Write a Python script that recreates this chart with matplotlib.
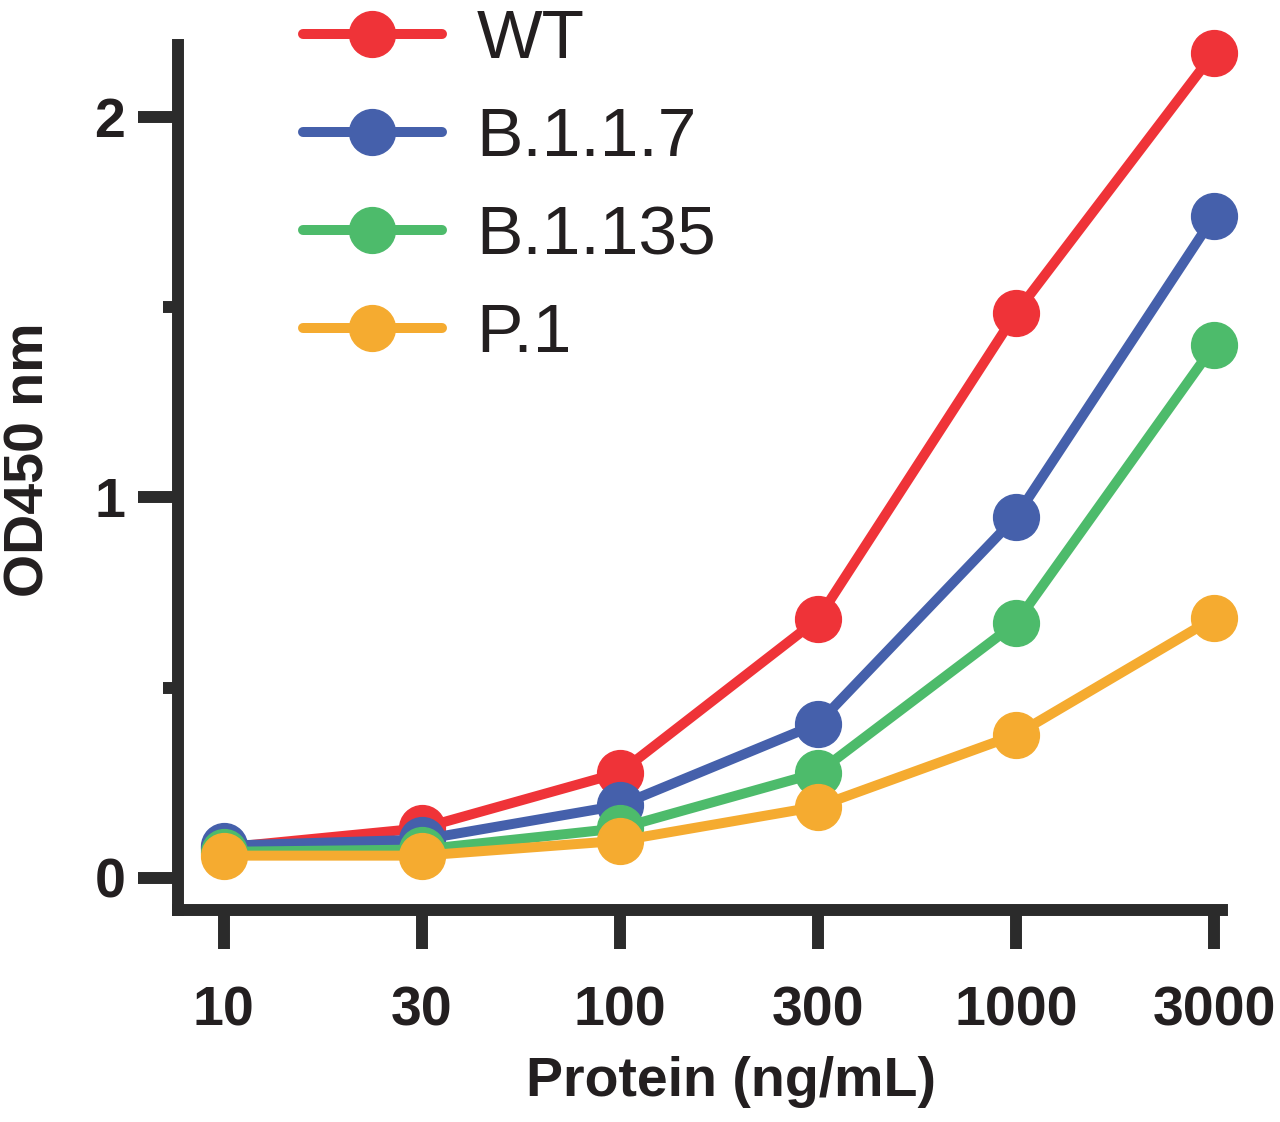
import numpy as np
import matplotlib.pyplot as plt

concentrations = ['10', '30', '100', '300', '1000', '3000']
series_names = ['WT', 'B.1.1.7', 'B.1.135', 'P.1']
wt = [0.079, 0.13, 0.276, 0.68, 1.485, 2.17]
b117 = [0.084, 0.10, 0.19, 0.405, 0.949, 1.74]
b135 = [0.068, 0.074, 0.13, 0.276, 0.67, 1.40]
p1 = [0.058, 0.058, 0.097, 0.187, 0.376, 0.683]
colors = ['#ef3338', '#4560ab', '#4dbb6b', '#f5ab30']

AXIS_COLOR = '#2b2b2b'

plt.rcParams['font.family'] = ['Liberation Sans', 'DejaVu Sans']

fig = plt.figure(figsize=(12.8, 11.22), dpi=100)
ax = fig.add_axes([178 / 1280, 1 - 910 / 1122, (1222 - 178) / 1280, (910 - 45) / 1122])

x_axis = np.arange(len(concentrations))
for values, name, color in zip([wt, b117, b135, p1], series_names, colors):
    ax.plot(x_axis, values, '-o', color=color, lw=7.2, ms=33, mec=color,
            label=name, solid_capstyle='round', clip_on=False)

ax.set_xlim(-0.23, 5.04)
ax.set_ylim(-0.085, 2.19)

for side in ['top', 'right']:
    ax.spines[side].set_visible(False)
for side in ['left', 'bottom']:
    ax.spines[side].set_linewidth(8.6)
    ax.spines[side].set_color(AXIS_COLOR)

ax.set_xticks(x_axis)
ax.set_xticklabels(concentrations)
ax.set_yticks([0, 1, 2])
ax.set_yticks([0.5, 1.5], minor=True)
ax.tick_params(axis='x', length=28, width=8.6, color=AXIS_COLOR, pad=26,
               labelsize=40, labelcolor='#231f20')
ax.tick_params(axis='y', which='major', length=28.8, width=8.6, color=AXIS_COLOR,
               pad=9, labelsize=40, labelcolor='#231f20')
ax.tick_params(axis='y', which='minor', length=11, width=8.6, color=AXIS_COLOR)
for lbl in ax.get_xticklabels() + ax.get_yticklabels():
    lbl.set_fontweight('bold')

fig.text(30 / 1280, 1 - 460 / 1122, 'OD450 nm', rotation=90, fontsize=40,
         fontweight='bold', color='#231f20', ha='center', va='center')
fig.text(731 / 1280, 1 - 1082 / 1122, 'Protein (ng/mL)', fontsize=40,
         fontweight='bold', color='#231f20', ha='center', va='center')

leg = ax.legend(loc='upper left', bbox_to_anchor=(303 / 1280, 1 - 8 / 1122),
                bbox_transform=fig.transFigure, frameon=False, fontsize=50,
                handlelength=2.0, handletextpad=0.5, labelspacing=0.49,
                borderpad=0, borderaxespad=0, markerscale=1.0)
for text in leg.get_texts():
    text.set_color('#231f20')

fig.savefig('out.png', dpi=100)
